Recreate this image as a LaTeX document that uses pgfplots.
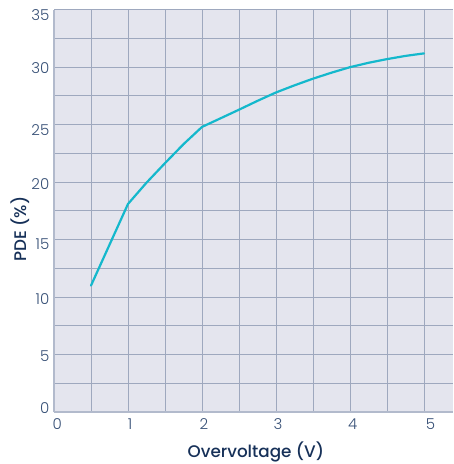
\documentclass[border=0pt]{standalone}
\usepackage{pgfplots}
\pgfplotsset{compat=1.18}
\usepackage{fontspec}
\setmainfont{Poppins}
\newfontfamily\plight{Poppins Light}
\newfontfamily\pmed{Poppins Medium}
\definecolor{bgc}{RGB}{228,229,238}
\definecolor{gridc}{RGB}{158,168,190}
\definecolor{axc}{RGB}{178,186,204}
\definecolor{linec}{RGB}{20,184,204}
\definecolor{labc}{RGB}{22,48,88}
\definecolor{tickc}{RGB}{55,80,118}
\begin{document}
\begin{tikzpicture}
\begin{axis}[
  name=ax,
  scale only axis,
  width=399pt, height=402.3pt,
  xmin=0, xmax=5.392, ymin=0, ymax=35,
  axis x line=bottom, axis y line=left,
  axis line style={draw=axc, line width=1.5pt, -},
  axis background/.style={fill=bgc},
  xtick={0.045,1.027,2.027,3.027,4.038,5.088},
  xticklabels={0,1,2,3,4,5},
  minor xtick={0,0.5,1,1.5,2,2.5,3,3.5,4,4.5,5},
  ytick={0.35,4.90,9.86,14.63,19.85,24.55,29.90,34.50},
  yticklabels={0,5,10,15,20,25,30,35},
  minor ytick={0,2.5,5,7.5,10,12.5,15,17.5,20,22.5,25,27.5,30,32.5,35},
  major tick length=0pt, minor tick length=0pt,
  grid=minor,
  minor grid style={draw=gridc, line width=1pt},
  /pgf/number format/assume math mode=true,
  tick label style={font=\plight\fontsize{15}{17}\selectfont, text=tickc},
  xticklabel style={anchor=center, yshift=-12.5pt, inner sep=0pt},
  yticklabel style={anchor=east, xshift=-4.5pt, inner sep=0pt},
  label style={font=\pmed\fontsize{16.8}{19}\selectfont, text=labc},
  xlabel={Overvoltage (V)},
  ylabel={PDE (\%)},
  xlabel style={at={(axis description cs:0.506,-0.112)}, anchor=base, inner sep=0pt},
  ylabel style={at={(axis description cs:-0.0684,0.455)}, anchor=base, rotate=0, inner sep=0pt},
]
\addplot[draw=linec, line width=2.2pt, line join=round, line cap=round] coordinates {
(0.5,11.0) (0.75,14.55) (1,18.1) (1.25,19.95) (1.5,21.65) (1.75,23.3) (2,24.8)
(2.25,25.55) (2.5,26.3) (2.75,27.07) (3,27.8) (3.25,28.42) (3.5,29.0)
(3.75,29.52) (4,30.0) (4.25,30.38) (4.5,30.7) (4.75,30.98) (5,31.2)
};
\end{axis}
\pgfresetboundingbox
\path ([shift={(-54pt,-52pt)}]ax.south west) rectangle ([shift={(0pt,9.7pt)}]ax.north east);
\end{tikzpicture}
\end{document}
